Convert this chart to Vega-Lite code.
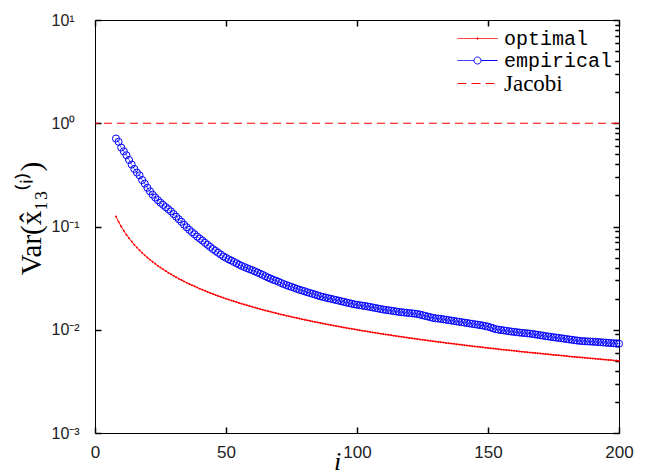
{
"$schema": "https://vega.github.io/schema/vega-lite/v6.json",
"width": 524, "height": 413,
"autosize": {"type": "none"},
"padding": {"left": 95, "top": 20, "right": 28, "bottom": 38},
"background": "white",
"config": {"view": {"stroke": "#000", "strokeWidth": 1}, "axis": {"domain": false, "grid": false, "labelColor": "#222", "labelFont": "Liberation Sans"}},
"data": {"values": [
{"i":8,"o":0.125,"e":0.711},{"i":9,"o":0.1111,"e":0.661},{"i":10,"o":0.1,"e":0.582},{"i":11,"o":0.09091,"e":0.535},{"i":12,"o":0.08333,"e":0.49},{"i":13,"o":0.07692,"e":0.441},{"i":14,"o":0.07143,"e":0.398},{"i":15,"o":0.06667,"e":0.361},{"i":16,"o":0.0625,"e":0.333},{"i":17,"o":0.05882,"e":0.313},{"i":18,"o":0.05556,"e":0.282},{"i":19,"o":0.05263,"e":0.26},{"i":20,"o":0.05,"e":0.237},{"i":21,"o":0.04762,"e":0.219},{"i":22,"o":0.04545,"e":0.203},{"i":23,"o":0.04348,"e":0.191},{"i":24,"o":0.04167,"e":0.18},{"i":25,"o":0.04,"e":0.17},{"i":26,"o":0.03846,"e":0.162},{"i":27,"o":0.03704,"e":0.154},{"i":28,"o":0.03571,"e":0.147},{"i":29,"o":0.03448,"e":0.14},{"i":30,"o":0.03333,"e":0.132},
{"i":31,"o":0.03226,"e":0.1245},{"i":32,"o":0.03125,"e":0.1175},{"i":33,"o":0.0303,"e":0.111},{"i":34,"o":0.02941,"e":0.1042},{"i":35,"o":0.02857,"e":0.0982},{"i":36,"o":0.02778,"e":0.0929},{"i":37,"o":0.02703,"e":0.0881},{"i":38,"o":0.02632,"e":0.0841},{"i":39,"o":0.02564,"e":0.0798},{"i":40,"o":0.025,"e":0.0762},{"i":41,"o":0.02439,"e":0.0731},{"i":42,"o":0.02381,"e":0.0695},{"i":43,"o":0.02326,"e":0.0664},{"i":44,"o":0.02273,"e":0.0634},{"i":45,"o":0.02222,"e":0.0605},{"i":46,"o":0.02174,"e":0.0581},{"i":47,"o":0.02128,"e":0.0557},{"i":48,"o":0.02083,"e":0.0535},{"i":49,"o":0.02041,"e":0.0513},{"i":50,"o":0.02,"e":0.0497},
{"i":51,"o":0.01961,"e":0.0481},{"i":52,"o":0.01923,"e":0.0468},{"i":53,"o":0.01887,"e":0.0454},{"i":54,"o":0.01852,"e":0.0441},{"i":55,"o":0.01818,"e":0.0427},{"i":56,"o":0.01786,"e":0.0415},{"i":57,"o":0.01754,"e":0.0405},{"i":58,"o":0.01724,"e":0.0395},{"i":59,"o":0.01695,"e":0.0386},{"i":60,"o":0.01667,"e":0.0378},{"i":61,"o":0.01639,"e":0.0368},{"i":62,"o":0.01613,"e":0.0359},{"i":63,"o":0.01587,"e":0.0349},{"i":64,"o":0.01563,"e":0.034},{"i":65,"o":0.01538,"e":0.033},{"i":66,"o":0.01515,"e":0.0321},{"i":67,"o":0.01493,"e":0.0313},{"i":68,"o":0.01471,"e":0.0305},{"i":69,"o":0.01449,"e":0.0299},{"i":70,"o":0.01429,"e":0.0292},
{"i":71,"o":0.01408,"e":0.0284},{"i":72,"o":0.01389,"e":0.0277},{"i":73,"o":0.0137,"e":0.0271},{"i":74,"o":0.01351,"e":0.0265},{"i":75,"o":0.01333,"e":0.026},{"i":76,"o":0.01316,"e":0.0255},{"i":77,"o":0.01299,"e":0.0249},{"i":78,"o":0.01282,"e":0.0244},{"i":79,"o":0.01266,"e":0.024},{"i":80,"o":0.0125,"e":0.0236},{"i":81,"o":0.01235,"e":0.0231},{"i":82,"o":0.0122,"e":0.0227},{"i":83,"o":0.01205,"e":0.0223},{"i":84,"o":0.0119,"e":0.0219},{"i":85,"o":0.01176,"e":0.0215},{"i":86,"o":0.01163,"e":0.0211},{"i":87,"o":0.01149,"e":0.0208},{"i":88,"o":0.01136,"e":0.0205},{"i":89,"o":0.01124,"e":0.0202},{"i":90,"o":0.01111,"e":0.01995},
{"i":91,"o":0.01099,"e":0.01968},{"i":92,"o":0.01087,"e":0.01941},{"i":93,"o":0.01075,"e":0.01914},{"i":94,"o":0.01064,"e":0.01888},{"i":95,"o":0.01053,"e":0.01862},{"i":96,"o":0.01042,"e":0.01836},{"i":97,"o":0.01031,"e":0.01811},{"i":98,"o":0.0102,"e":0.01786},{"i":99,"o":0.0101,"e":0.01762},{"i":100,"o":0.01,"e":0.01746},{"i":101,"o":0.0099,"e":0.0173},{"i":102,"o":0.0098,"e":0.01714},{"i":103,"o":0.00971,"e":0.01698},{"i":104,"o":0.00962,"e":0.01682},{"i":105,"o":0.00952,"e":0.01663},{"i":106,"o":0.00943,"e":0.01644},{"i":107,"o":0.00935,"e":0.01625},{"i":108,"o":0.00926,"e":0.01607},{"i":109,"o":0.00917,"e":0.01588},{"i":110,"o":0.00909,"e":0.0157},
{"i":111,"o":0.00901,"e":0.01556},{"i":112,"o":0.00893,"e":0.01545},{"i":113,"o":0.00885,"e":0.01531},{"i":114,"o":0.00877,"e":0.01517},{"i":115,"o":0.0087,"e":0.01503},{"i":116,"o":0.00862,"e":0.01489},{"i":117,"o":0.00855,"e":0.01479},{"i":118,"o":0.00847,"e":0.01469},{"i":119,"o":0.0084,"e":0.01459},{"i":120,"o":0.00833,"e":0.01449},{"i":121,"o":0.00826,"e":0.01442},{"i":122,"o":0.0082,"e":0.01432},{"i":123,"o":0.00813,"e":0.01422},{"i":124,"o":0.00806,"e":0.01403},{"i":125,"o":0.008,"e":0.01384},{"i":126,"o":0.00794,"e":0.01362},{"i":127,"o":0.00787,"e":0.01343},{"i":128,"o":0.00781,"e":0.01324},{"i":129,"o":0.00775,"e":0.01303},{"i":130,"o":0.00769,"e":0.01291},
{"i":131,"o":0.00763,"e":0.01282},{"i":132,"o":0.00758,"e":0.01274},{"i":133,"o":0.00752,"e":0.01262},{"i":134,"o":0.00746,"e":0.0125},{"i":135,"o":0.00741,"e":0.01239},{"i":136,"o":0.00735,"e":0.01228},{"i":137,"o":0.0073,"e":0.01216},{"i":138,"o":0.00725,"e":0.01205},{"i":139,"o":0.00719,"e":0.01194},{"i":140,"o":0.00714,"e":0.01183},{"i":141,"o":0.00709,"e":0.01172},{"i":142,"o":0.00704,"e":0.01162},{"i":143,"o":0.00699,"e":0.01151},{"i":144,"o":0.00694,"e":0.0114},{"i":145,"o":0.0069,"e":0.0113},{"i":146,"o":0.00685,"e":0.01119},{"i":147,"o":0.0068,"e":0.01109},{"i":148,"o":0.00676,"e":0.01099},{"i":149,"o":0.00671,"e":0.01086},{"i":150,"o":0.00667,"e":0.01072},
{"i":151,"o":0.00662,"e":0.01052},{"i":152,"o":0.00658,"e":0.01033},{"i":153,"o":0.00654,"e":0.01012},{"i":154,"o":0.00649,"e":0.01002},{"i":155,"o":0.00645,"e":0.00993},{"i":156,"o":0.00641,"e":0.00986},{"i":157,"o":0.00637,"e":0.00977},{"i":158,"o":0.00633,"e":0.00968},{"i":159,"o":0.00629,"e":0.00959},{"i":160,"o":0.00625,"e":0.00953},{"i":161,"o":0.00621,"e":0.00946},{"i":162,"o":0.00617,"e":0.0094},{"i":163,"o":0.00613,"e":0.00933},{"i":164,"o":0.0061,"e":0.00929},{"i":165,"o":0.00606,"e":0.00923},{"i":166,"o":0.00602,"e":0.00918},{"i":167,"o":0.00599,"e":0.0091},{"i":168,"o":0.00595,"e":0.00902},{"i":169,"o":0.00592,"e":0.00893},{"i":170,"o":0.00588,"e":0.00885},
{"i":171,"o":0.00585,"e":0.00877},{"i":172,"o":0.00581,"e":0.00867},{"i":173,"o":0.00578,"e":0.00861},{"i":174,"o":0.00575,"e":0.00853},{"i":175,"o":0.00571,"e":0.00847},{"i":176,"o":0.00568,"e":0.00839},{"i":177,"o":0.00565,"e":0.00834},{"i":178,"o":0.00562,"e":0.00826},{"i":179,"o":0.00559,"e":0.0082},{"i":180,"o":0.00556,"e":0.00813},{"i":181,"o":0.00552,"e":0.00805},{"i":182,"o":0.00549,"e":0.008},{"i":183,"o":0.00546,"e":0.00792},{"i":184,"o":0.00543,"e":0.00787},{"i":185,"o":0.00541,"e":0.0078},{"i":186,"o":0.00538,"e":0.00776},{"i":187,"o":0.00535,"e":0.00774},{"i":188,"o":0.00532,"e":0.00771},{"i":189,"o":0.00529,"e":0.00769},{"i":190,"o":0.00526,"e":0.00766},
{"i":191,"o":0.00524,"e":0.00764},{"i":192,"o":0.00521,"e":0.0076},{"i":193,"o":0.00518,"e":0.00757},{"i":194,"o":0.00515,"e":0.00753},{"i":195,"o":0.00513,"e":0.0075},{"i":196,"o":0.0051,"e":0.00746},{"i":197,"o":0.00508,"e":0.00743},{"i":198,"o":0.00505,"e":0.0074},{"i":199,"o":0.00503,"e":0.00736},{"i":200,"o":0.005,"e":0.00733}
]},
"layer": [
{
 "data": {"values": [{"j": 1}]},
 "mark": {"type": "rule", "strokeDash": [8, 5], "strokeWidth": 1.2},
 "encoding": {
  "y": {"field": "j", "type": "quantitative", "scale": {"type": "log", "domain": [0.001, 10]},
   "axis": {"values": [0.001, 0.01, 0.1, 1, 10], "offset": -6, "tickSize": 6, "tickWidth": 1.5, "tickColor": "#000", "labelPadding": 44, "labelAlign": "left", "labelBaseline": "middle", "labelFontSize": 16, "labelDy": 2,
    "labelExpr": "datum.value >= 10 ? '10¹' : datum.value >= 1 ? '10⁰' : datum.value >= 0.1 ? '10⁻¹' : datum.value >= 0.01 ? '10⁻²' : '10⁻³'",
    "title": "Var(x̂₁₃⁽ⁱ⁾)", "titleFont": "Liberation Serif", "titleFontSize": 29, "titleFontWeight": "normal", "titleColor": "#000", "titleX": -70, "titleY": 198, "titleAngle": -90, "titleBaseline": "middle", "titleAlign": "center"}},
  "color": {"datum": "Jacobi", "type": "nominal",
   "scale": {"domain": ["optimal", "empirical", "Jacobi"], "range": ["#ff0000", "#0000ff", "#ff0000"]},
   "legend": {"title": null, "orient": "none", "legendX": 372, "legendY": 8, "padding": 0, "rowPadding": 1,
    "symbolType": "M-2,0H2", "symbolSize": 400, "symbolStrokeWidth": 1, "symbolFillColor": "transparent", "labelOffset": 16,
    "labelFont": "Liberation Mono", "labelFontSize": 20,
    "labelColor": "#000", "labelBaseline": "middle",
    "encode": {
     "symbols": {"update": {
      "shape": {"signal": "datum.value === 'empirical' ? 'M-2,0H-0.35M0.35,0H2M0.35,0A0.35,0.35 0 1,1 -0.35,0A0.35,0.35 0 1,1 0.35,0' : datum.value === 'optimal' ? 'M-2,0H2M0.08,0A0.08,0.08 0 1,1 -0.08,0A0.08,0.08 0 1,1 0.08,0' : 'M-2,0H2'"},
      "strokeDash": {"signal": "datum.value === 'Jacobi' ? [9, 5] : [1, 0]"},
      "fill": {"value": "transparent"},
      "fillOpacity": {"value": 0},
      "stroke": {"scale": "color", "field": "value"},
      "opacity": {"value": 1}
     }},
     "labels": {"update": {
      "font": {"signal": "datum.value === 'Jacobi' ? 'Liberation Serif' : 'Liberation Mono'"},
      "fontSize": {"signal": "datum.value === 'Jacobi' ? 23 : 20"}
     }}
    }}}
 }
},
{
 "mark": {"type": "line", "strokeWidth": 1},
 "encoding": {
  "x": {"field": "i", "type": "quantitative", "scale": {"domain": [0, 200], "nice": false},
   "axis": {"values": [0, 50, 100, 150, 200], "offset": -6, "tickSize": 6, "tickWidth": 1.5, "tickColor": "#000", "labelPadding": 11, "labelBaseline": "top", "labelFontSize": 17, "labelFlush": false,
    "title": "i", "titleFont": "Liberation Serif", "titleFontStyle": "italic", "titleFontWeight": "normal", "titleFontSize": 26, "titleColor": "#000", "titleX": 242, "titleY": 42, "titleBaseline": "alphabetic"}},
  "y": {"field": "o", "type": "quantitative", "scale": {"type": "log", "domain": [0.001, 10]},
   "axis": {"values": [0.002,0.003,0.004,0.005,0.006,0.007,0.008,0.009,0.02,0.03,0.04,0.05,0.06,0.07,0.08,0.09,0.2,0.3,0.4,0.5,0.6,0.7,0.8,0.9,2,3,4,5,6,7,8,9], "offset": -4, "tickSize": 4, "tickWidth": 1.3, "tickColor": "#000", "labels": false, "title": null}},
  "color": {"datum": "optimal", "type": "nominal"}
 }
},
{
 "mark": {"type": "point", "filled": true, "size": 4, "opacity": 1},
 "encoding": {
  "x": {"field": "i", "type": "quantitative", "scale": {"domain": [0, 200], "nice": false},
   "axis": {"orient": "top", "values": [0, 50, 100, 150, 200], "offset": -6, "tickSize": 6, "tickWidth": 1.5, "tickColor": "#000", "labels": false, "title": null}},
  "y": {"field": "o", "type": "quantitative", "scale": {"type": "log", "domain": [0.001, 10]},
   "axis": {"orient": "right", "values": [0.001, 0.01, 0.1, 1, 10], "offset": -6, "tickSize": 6, "tickWidth": 1.5, "tickColor": "#000", "labels": false, "title": null}},
  "color": {"datum": "optimal", "type": "nominal"}
 }
},
{
 "mark": {"type": "line", "strokeWidth": 0.6},
 "encoding": {
  "x": {"field": "i", "type": "quantitative", "scale": {"domain": [0, 200], "nice": false}, "axis": null},
  "y": {"field": "e", "type": "quantitative", "scale": {"type": "log", "domain": [0.001, 10]},
   "axis": {"orient": "right", "values": [0.002,0.003,0.004,0.005,0.006,0.007,0.008,0.009,0.02,0.03,0.04,0.05,0.06,0.07,0.08,0.09,0.2,0.3,0.4,0.5,0.6,0.7,0.8,0.9,2,3,4,5,6,7,8,9], "offset": -4, "tickSize": 4, "tickWidth": 1.3, "tickColor": "#000", "labels": false, "title": null}},
  "color": {"datum": "empirical", "type": "nominal"}
 }
},
{
 "mark": {"type": "point", "filled": false, "size": 50, "strokeWidth": 1, "opacity": 1},
 "encoding": {
  "x": {"field": "i", "type": "quantitative", "scale": {"domain": [0, 200], "nice": false}, "axis": null},
  "y": {"field": "e", "type": "quantitative", "scale": {"type": "log", "domain": [0.001, 10]}, "axis": null},
  "color": {"datum": "empirical", "type": "nominal"}
 }
}
],
"resolve": {"axis": {"x": "independent", "y": "independent"}}
}
